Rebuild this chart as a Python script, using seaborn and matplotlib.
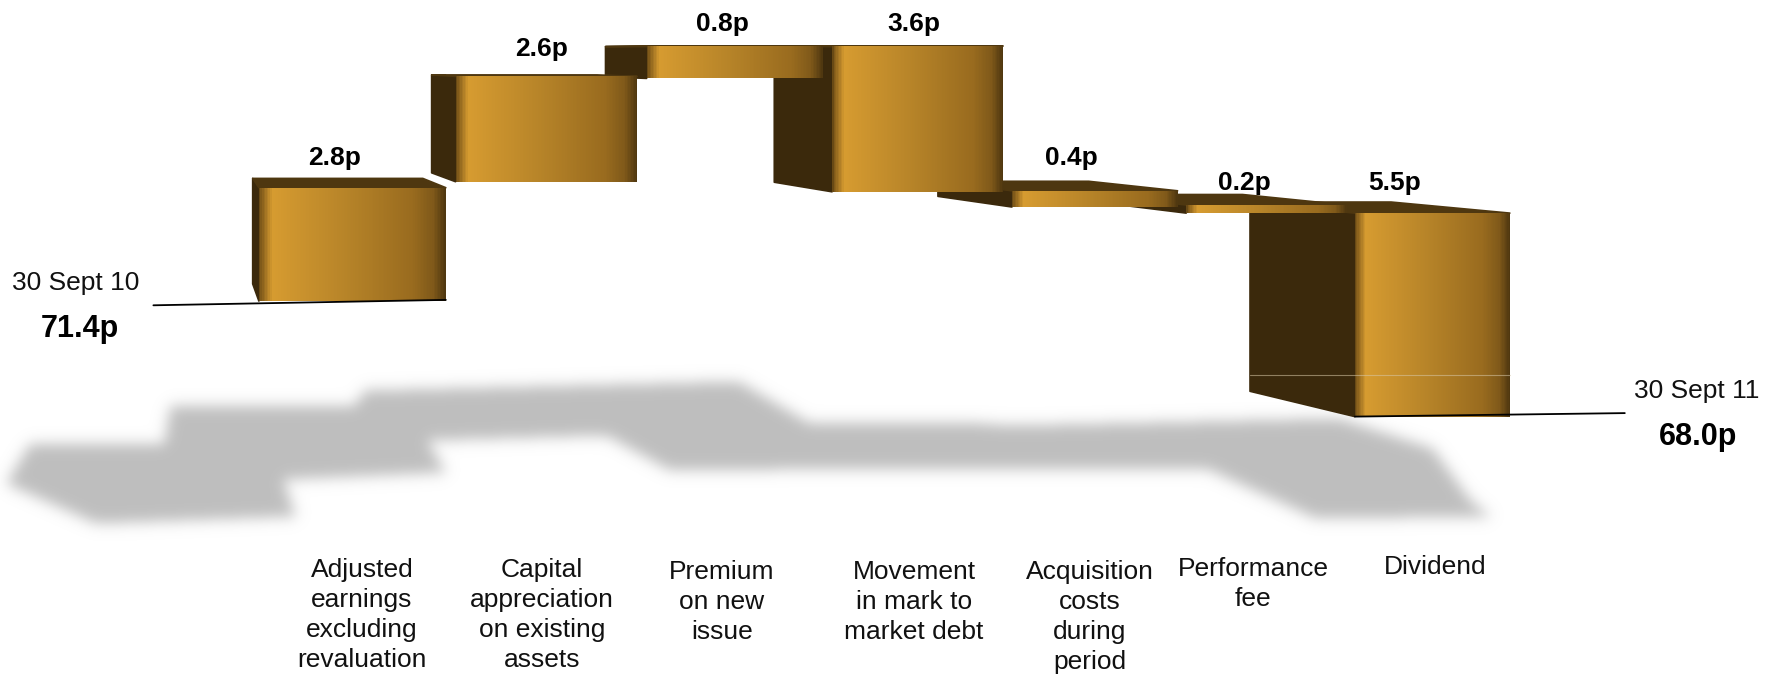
import numpy as np
import pandas as pd
import seaborn as sns
import matplotlib
matplotlib.use("Agg")
import matplotlib.pyplot as plt
from matplotlib.patches import Polygon
from matplotlib.path import Path
from matplotlib.transforms import Affine2D, IdentityTransform

# NAV bridge, pence per share
categories = ["Adjusted\nearnings\nexcluding\nrevaluation", "Capital\nappreciation\non existing\nassets",
              "Premium\non new\nissue", "Movement\nin mark to\nmarket debt",
              "Acquisition\ncosts\nduring\nperiod", "Performance\nfee", "Dividend"]
steps = [2.8, 2.6, 0.8, -3.6, -0.4, -0.2, -5.5]
opening = 71.4
closing = 68.0
opening_label = "30 Sept 10"
closing_label = "30 Sept 11"

W, H = 1773, 676
sns.set_theme(style="white")
plt.rcParams["font.family"] = ["Liberation Sans", "DejaVu Sans"]

bases = opening + np.concatenate(([0.0], np.cumsum(steps)[:-1]))
table = pd.DataFrame({"item": categories, "step": steps})

fig = plt.figure(figsize=(W / 100, H / 100), dpi=100, facecolor="white")

# Backdrop layer in plain pixels: soft floor shadow
back = fig.add_axes([0, 0, 1, 1], zorder=0)
back.set_axis_off()

shadow_outline = [(6, 483), (30, 443), (164, 443), (170, 405), (354, 405), (365, 390), (738, 381),
                  (808, 422), (965, 422), (1011, 425), (1338, 418), (1432, 448), (1470, 500),
                  (1490, 516), (1316, 518), (1208, 469), (880, 468), (670, 470), (606, 435),
                  (427, 440), (445, 472), (283, 479), (295, 516), (96, 523)]
gx, gy = np.meshgrid(np.arange(W), np.arange(H))
mask = Path(shadow_outline).contains_points(np.c_[gx.ravel(), gy.ravel()]).reshape(H, W).astype(float)
t = np.arange(-24, 25)
kernel = np.exp(-t**2 / (2 * 7.0**2))
kernel /= kernel.sum()
mask = np.apply_along_axis(lambda r: np.convolve(r, kernel, mode="same"), 0, mask)
mask = np.apply_along_axis(lambda r: np.convolve(r, kernel, mode="same"), 1, mask)
shade = np.ones((H, W, 4))
shade[..., :3] = 190 / 255
shade[..., 3] = mask
back.imshow(shade, extent=(0, W, H, 0), aspect="auto", interpolation="bilinear")
back.set_xlim(0, W)
back.set_ylim(H, 0)

# Main layer: the waterfall itself
ax = fig.add_axes([0, 0, 1, 1], zorder=1)
ax.patch.set_alpha(0)
sns.barplot(data=table, x="item", y="step", bottom=bases, width=0.95, color="#B5842A",
            errorbar=None, saturation=1, ax=ax)
ax.set_axis_off()


# Receding x axis: category spacing tightens from left to right
def x_forward(u):
    u = np.asarray(u, float)
    return 353 + 196.8 * u - 2.8 * u**2


def x_inverse(p):
    p = np.asarray(p, float)
    return (196.8 - np.sqrt(196.8**2 - 4 * 2.8 * (p - 353))) / (2 * 2.8)


# Pence axis, slightly compressed below the opening level
def y_forward(v):
    v = np.asarray(v, float)
    down = np.where(v >= opening, 46 + (77.6 - v) * 40.5, 46 + (77.6 - opening) * 40.5 + (opening - v) * 35)
    return H - down


def y_inverse(p):
    p = np.asarray(p, float)
    down = H - p
    knee = 46 + (77.6 - opening) * 40.5
    return np.where(down <= knee, 77.6 - (down - 46) / 40.5, opening - (down - knee) / 35)


ax.set_xscale("function", functions=(x_forward, x_inverse))
ax.set_yscale("function", functions=(y_forward, y_inverse))
ax.set_xlim(float(x_inverse(0)), float(x_inverse(W)))
ax.set_ylim(float(y_inverse(0)), float(y_inverse(H)))
ax.set_axis_off()

# Small per-column vertical shift from the camera tilt (pixels downward)
camera_drop = [4, -2, 0, 0, -1, -3, -3]
vanish = (190, H - 55)
recede = (0.09, 0.07)

stops = [0.0, 0.012, 0.07, 0.45, 0.82, 0.93, 1.0]
stop_rgb = np.array([[0.36, 0.25, 0.07], [0.50, 0.35, 0.10], [0.84, 0.61, 0.19], [0.72, 0.52, 0.16],
                     [0.60, 0.42, 0.12], [0.50, 0.35, 0.10], [0.30, 0.21, 0.06]])
side_colour = "#3B290C"
top_colour = "#4E3710"


def to_back(pt):
    return (pt[0] + recede[0] * (vanish[0] - pt[0]), pt[1] + recede[1] * (vanish[1] - pt[1]))


bars = list(ax.patches)
for i, rect in enumerate(bars):
    tf = ax.transData + Affine2D().translate(0, -camera_drop[i])
    z = 10 + 3 * (len(bars) - i)
    left, right = rect.get_x(), rect.get_x() + rect.get_width()
    low = min(rect.get_y(), rect.get_y() + rect.get_height())
    high = max(rect.get_y(), rect.get_y() + rect.get_height())
    rect.set_transform(tf)
    rect.set_linewidth(0)
    rect.set_zorder(z)

    tl, tr, bl = tf.transform([(left, high), (right, high), (left, low)])
    side = [tl, to_back(tl), to_back(bl), bl]
    roof = [tl, tr, to_back(tr), to_back(tl)]
    ax.add_patch(Polygon(side, closed=True, transform=IdentityTransform(), facecolor=side_colour,
                         edgecolor=side_colour, lw=1.2, joinstyle="round", zorder=z - 2))
    ax.add_patch(Polygon(roof, closed=True, transform=IdentityTransform(), facecolor=top_colour,
                         edgecolor=top_colour, lw=1.2, joinstyle="round", zorder=z - 1))

    frac = np.linspace(0, 1, 121)
    mid = 0.5 * (frac[:-1] + frac[1:])
    rgb = np.stack([np.interp(mid, stops, stop_rgb[:, c]) for c in range(3)], axis=-1)[None, :, :]
    ax.pcolormesh(left + frac * (right - left), [low, high], rgb, transform=tf, shading="flat",
                  antialiased=False, linewidth=0, zorder=z + 0.5)

ax.set_xlim(float(x_inverse(0)), float(x_inverse(W)))
ax.set_ylim(float(y_inverse(0)), float(y_inverse(H)))

# Opening and closing rules
left_tf = ax.transData + Affine2D().translate(0, -camera_drop[0])
ax.plot([-1.0, 0.475], [opening - 0.12, opening + 0.03], color="black", lw=1.3, transform=left_tf, zorder=60)
right_tf = ax.transData + Affine2D().translate(0, -camera_drop[-1])
ax.plot([5.525, 7.2], [bases[-1] + steps[-1], closing], color="black", lw=1.3, transform=right_tf, zorder=60)

# Faint seam across the dividend block
sx0, sy = right_tf.transform((5.525, 69.1))
sx1, _ = right_tf.transform((6.475, 69.1))
ax.plot([to_back((sx0, sy))[0], sx1], [sy, sy], color="#D8C8A8", lw=0.8, alpha=0.55,
        transform=IdentityTransform(), zorder=61)

# Captions
label_x = [362, 542, 722, 914, 1090, 1253, 1435]
label_top = [558, 558, 560, 560, 560, 557, 555]
value_x = [335, 542, 722, 914, 1071, 1244, 1395]
value_y = [158, 49, 24, 24, 158, 183, 183]
txt = fig.add_axes([0, 0, 1, 1], zorder=2)
txt.set_xlim(0, W)
txt.set_ylim(H, 0)
txt.set_axis_off()
txt.patch.set_alpha(0)
for name, x, y in zip(categories, label_x, label_top):
    txt.text(x, y, name, ha="center", va="top", fontsize=19, color="#111111", linespacing=1.31)
for step, x, y in zip(steps, value_x, value_y):
    txt.text(x, y, f"{abs(step):.1f}p", ha="center", va="center", fontsize=19, fontweight="bold", color="black")
txt.text(76, 283, opening_label, ha="center", va="center", fontsize=19, color="#111111")
txt.text(80, 329, f"{opening:.1f}p", ha="center", va="center", fontsize=22, fontweight="bold", color="black")
txt.text(1697, 391, closing_label, ha="center", va="center", fontsize=19, color="#111111")
txt.text(1698, 437, f"{closing:.1f}p", ha="center", va="center", fontsize=22, fontweight="bold", color="black")

fig.savefig("out.png", dpi=100, facecolor="white")
